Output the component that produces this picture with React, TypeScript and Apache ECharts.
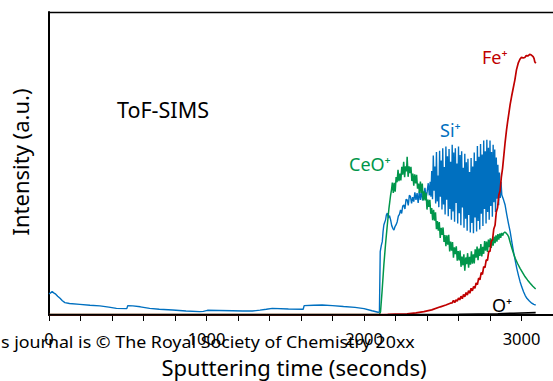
import { useEffect, useRef } from "react";
import * as echarts from "echarts";

// Sputtering time axis (seconds)
const timeMin = 0;
const timeMax = 3200;
const tickStep = 200;
const labelledTicks = [0, 1000, 2000, 3000];

// ToF-SIMS depth profiles: [time (s), intensity (a.u., 0-100)]
const siData: [number, number][] = [
  [0, 7.0], [10, 7.3], [20, 7.7], [30, 7.3], [40, 7.0], [55, 6.2], [70, 5.5], [85, 4.7],
  [101, 4.1], [130, 3.8], [196, 3.5], [260, 3.2], [323, 3.0], [380, 2.6], [428, 2.2],
  [494, 2.1], [500, 3.1], [532, 3.0], [580, 2.7], [639, 2.2], [700, 1.9], [785, 1.65],
  [870, 1.3], [956, 1.1], [980, 1.2], [1006, 1.55], [1080, 1.5], [1165, 1.4], [1230, 1.3],
  [1291, 1.3], [1340, 1.6], [1380, 1.9], [1418, 2.2], [1520, 2.0], [1614, 1.9], [1620, 3.1],
  [1680, 3.2], [1734, 3.3], [1800, 3.1], [1870, 2.8], [1943, 2.5], [2000, 2.1], [2051, 1.4],
  [2089, 0.9], [2098, 1.0],
  [2103, 20.9], [2110, 23.0], [2116, 24.2], [2121, 27.5], [2126, 29.7], [2131, 30.5],
  [2137, 31.4], [2142, 33.0], [2148, 33.6], [2155, 32.0], [2162, 32.8], [2169, 31.4],
  [2176, 29.5], [2183, 28.6], [2190, 28.0], [2197, 29.2], [2204, 29.8], [2211, 30.8],
  [2218, 32.6], [2225, 33.2], [2232, 34.7], [2239, 33.5], [2246, 36.0], [2253, 36.3],
  [2260, 35.0], [2267, 38.2], [2274, 38.0], [2281, 36.2], [2288, 39.5], [2295, 39.1],
  [2302, 36.8], [2309, 38.9], [2316, 37.4], [2323, 40.5], [2330, 38.0], [2337, 40.2],
  [2344, 37.0], [2351, 40.8], [2358, 38.0], [2365, 41.0], [2372, 37.8], [2380, 39.6],
  [2387, 42.0], [2394, 38.5], [2401, 40.7], [2408, 43.5], [2415, 39.5],
  [2420, 44.0], [2425, 39.0], [2430, 47.5], [2435, 38.2], [2440, 52.6], [2445, 41.0],
  [2450, 49.0], [2455, 36.8], [2460, 53.8], [2465, 37.5], [2470, 46.0], [2475, 35.6],
  [2480, 54.2], [2485, 39.0], [2490, 51.0], [2495, 34.8], [2500, 55.0], [2505, 36.5],
  [2510, 48.8], [2515, 33.2], [2520, 55.6], [2525, 38.0], [2530, 52.4], [2535, 32.6],
  [2540, 54.8], [2545, 35.0], [2550, 50.6], [2555, 31.4], [2560, 56.2], [2565, 34.2],
  [2570, 53.6], [2575, 30.8], [2580, 55.0], [2585, 37.0], [2590, 50.0], [2595, 30.2],
  [2600, 55.6], [2605, 33.6], [2610, 52.8], [2615, 29.6], [2620, 54.0], [2625, 35.5],
  [2630, 48.6], [2635, 28.8], [2640, 53.2], [2645, 31.8], [2650, 50.4], [2655, 27.8],
  [2660, 51.6], [2665, 33.0], [2670, 47.2], [2675, 27.2], [2680, 51.8], [2685, 30.4],
  [2690, 49.0], [2695, 27.0], [2700, 53.6], [2705, 32.2], [2710, 50.8], [2715, 27.6],
  [2720, 55.8], [2725, 31.0], [2730, 52.2], [2735, 28.2], [2740, 56.4], [2745, 33.4],
  [2750, 53.0], [2755, 29.4], [2760, 57.6], [2765, 35.0], [2770, 54.0], [2775, 30.2],
  [2780, 57.8], [2785, 34.0], [2790, 55.2], [2795, 31.4], [2800, 57.6], [2805, 36.0],
  [2810, 53.8], [2815, 32.4], [2820, 56.2], [2825, 37.2], [2830, 54.6], [2835, 34.0],
  [2840, 52.0], [2845, 38.4], [2850, 49.6], [2855, 36.2], [2860, 47.0], [2865, 38.6],
  [2870, 44.0], [2875, 39.6],
  [2886, 38.0], [2896, 36.3], [2907, 33.0], [2918, 30.0], [2928, 27.5], [2939, 24.0],
  [2949, 20.9], [2960, 18.0], [2970, 15.4], [2981, 13.0], [2991, 11.0], [3002, 9.2],
  [3013, 7.7], [3023, 6.5], [3034, 5.5], [3050, 4.6], [3065, 3.9], [3078, 3.5], [3090, 3.3],
];

const ceoData: [number, number][] = [
  [0, 0.2], [1000, 0.2], [2098, 0.2], [2100, 0.3], [2105, 1.1], [2115, 8.0], [2126, 16.5],
  [2137, 23.5], [2148, 29.7], [2158, 35.0], [2169, 39.6], [2175, 41.5],
  [2180, 43.7], [2186, 40.3], [2192, 43.6], [2198, 40.7], [2204, 45.5], [2210, 43.8],
  [2216, 47.9], [2222, 44.2], [2228, 46.7], [2234, 44.4], [2240, 48.9], [2246, 46.3],
  [2252, 50.6], [2258, 45.5], [2264, 49.1], [2270, 47.4], [2274, 52.2], [2280, 45.6],
  [2286, 49.1], [2292, 46.8], [2298, 48.9], [2304, 44.2], [2310, 46.7], [2316, 42.7],
  [2322, 46.4], [2328, 43.4], [2334, 46.3], [2340, 41.7], [2346, 43.4], [2352, 40.3],
  [2358, 44.0], [2364, 40.3], [2370, 43.4], [2376, 37.8], [2382, 40.8], [2388, 37.8],
  [2394, 40.3], [2400, 34.8], [2406, 38.1], [2412, 35.7], [2418, 38.0], [2424, 33.4],
  [2430, 35.3], [2436, 31.3], [2442, 34.7], [2448, 31.1], [2454, 33.9], [2460, 28.3],
  [2466, 31.0], [2472, 27.8], [2478, 30.7], [2484, 25.4], [2490, 28.8], [2496, 26.4],
  [2502, 28.9], [2508, 24.1], [2514, 26.4], [2520, 22.7], [2526, 26.3], [2532, 23.2],
  [2538, 26.5], [2544, 21.0], [2550, 24.2], [2556, 21.2], [2562, 24.1], [2568, 18.9],
  [2574, 22.3], [2580, 20.1], [2586, 22.7], [2592, 17.9], [2598, 21.1], [2604, 18.0],
  [2610, 21.3], [2616, 15.9], [2622, 19.3], [2628, 16.4], [2634, 20.0], [2640, 14.6],
  [2646, 19.0], [2652, 16.8], [2658, 20.4], [2664, 15.6], [2670, 19.2], [2676, 16.6],
  [2682, 21.0], [2688, 16.9], [2694, 20.0], [2700, 17.0], [2706, 21.7], [2712, 18.9],
  [2718, 22.6], [2724, 18.1], [2730, 21.9], [2736, 19.5], [2742, 23.4], [2748, 19.3],
  [2754, 22.5], [2760, 20.2], [2766, 24.4], [2772, 21.2], [2778, 24.2], [2784, 20.8],
  [2790, 24.9], [2796, 22.4], [2802, 25.3], [2808, 22.1], [2814, 25.1], [2820, 22.9],
  [2826, 25.9], [2832, 23.7], [2838, 26.3], [2844, 24.2], [2850, 26.7], [2856, 24.9],
  [2862, 26.9], [2868, 25.5], [2874, 27.1], [2880, 26.2], [2886, 27.0], [2894, 27.4],
  [2903, 27.0], [2910, 26.6], [2918, 25.9], [2928, 24.0], [2939, 22.0], [2950, 20.2],
  [2960, 18.7], [2975, 17.0], [2991, 15.4], [3007, 14.0], [3023, 12.6], [3039, 11.5],
  [3055, 10.5], [3072, 9.5], [3090, 8.6],
];

const feData: [number, number][] = [
  [0, 0.1], [1000, 0.1], [2095, 0.1], [2150, 0.2], [2200, 0.3], [2274, 0.4], [2330, 0.7],
  [2380, 1.1], [2430, 1.7], [2485, 2.7], [2520, 3.3], [2548, 3.9], [2560, 4.0], [2568, 4.8],
  [2576, 4.1], [2584, 5.0], [2592, 4.6], [2600, 5.6], [2608, 5.0], [2616, 6.2], [2624, 5.4],
  [2632, 6.8], [2640, 6.0], [2648, 7.4], [2656, 6.6], [2664, 8.0], [2672, 7.2], [2680, 8.8],
  [2688, 8.0], [2696, 9.4], [2704, 8.8], [2712, 10.6], [2720, 10.0], [2728, 12.2],
  [2736, 11.6], [2744, 14.0], [2752, 13.4], [2760, 16.0], [2768, 15.6], [2776, 18.2],
  [2784, 18.0], [2792, 21.0], [2800, 21.0], [2808, 24.4], [2816, 24.8], [2824, 28.4],
  [2832, 29.6], [2840, 34.0], [2848, 35.4], [2856, 39.6], [2864, 41.0], [2872, 45.5],
  [2880, 48.5], [2886, 51.7], [2896, 57.0], [2905, 61.1], [2912, 63.8], [2920, 66.6],
  [2928, 69.5], [2937, 72.1], [2948, 75.0], [2958, 77.6], [2968, 80.9], [2979, 83.1],
  [2990, 84.4], [3000, 85.1], [3010, 84.8], [3021, 85.0], [3030, 85.6], [3042, 85.5],
  [3052, 86.0], [3063, 85.8], [3074, 85.3], [3080, 84.6], [3084, 83.6], [3091, 83.1],
];

const oData: [number, number][] = [
  [0, 0.1], [2100, 0.1], [2600, 0.2], [2850, 0.4], [2950, 0.6], [3090, 0.8],
];

const FONT = "Noto Sans";

export default function App() {
  const ref = useRef<HTMLDivElement>(null);

  useEffect(() => {
    const chart = echarts.init(ref.current!, null, { renderer: "svg" });
    const line = (name: string, data: [number, number][], color: string, width = 1.5) => ({
      name,
      type: "line",
      data,
      showSymbol: false,
      symbol: "none",
      lineStyle: { color, width },
      itemStyle: { color },
    });
    chart.setOption({
      animation: false,
      backgroundColor: "#ffffff",
      grid: { left: 49, top: 12, width: 506, height: 303, containLabel: false },
      xAxis: [
        {
          type: "value",
          min: timeMin,
          max: timeMax,
          interval: tickStep,
          axisLine: { show: true, lineStyle: { color: "#000", width: 2 } },
          axisTick: { show: true, length: 6, lineStyle: { color: "#000", width: 1 } },
          splitLine: { show: false },
          axisLabel: {
            margin: 15,
            color: "#000",
            fontFamily: FONT,
            fontSize: 16.5,
            showMaxLabel: false,
            formatter: (v: number) => (labelledTicks.includes(v) ? String(v) : ""),
          },
        },
        {
          type: "value",
          position: "top",
          min: timeMin,
          max: timeMax,
          axisLine: { show: true, onZero: false, lineStyle: { color: "#000", width: 1.3 } },
          axisTick: { show: false },
          axisLabel: { show: false },
          splitLine: { show: false },
        },
      ],
      yAxis: {
        type: "value",
        min: 0,
        max: 100,
        axisLine: { show: true, lineStyle: { color: "#000", width: 2 } },
        axisTick: { show: false },
        axisLabel: { show: false },
        splitLine: { show: false },
      },
      series: [
        line("Si+", siData, "#0070C0", 1.4),
        line("CeO+", ceoData, "#00964B"),
        line("Fe+", feData, "#C00000", 1.7),
        line("O+", oData, "#000000", 1.6),
      ],
      graphic: [
        {
          type: "text",
          x: 1,
          y: 342,
          scaleX: 1.08,
          style: {
            text: "s journal is © The Royal Society of Chemistry 20xx",
            fill: "#000",
            font: `16.5px "${FONT}"`,
            textAlign: "left",
            textVerticalAlign: "middle",
          },
        },
        {
          type: "text",
          x: 294,
          y: 367,
          style: {
            text: "Sputtering time (seconds)",
            fill: "#000",
            font: `22px "${FONT}"`,
            textAlign: "center",
            textVerticalAlign: "middle",
          },
        },
        {
          type: "text",
          x: 20,
          y: 162,
          rotation: Math.PI / 2,
          style: {
            text: "Intensity (a.u.)",
            fill: "#000",
            font: `22px "${FONT}"`,
            textAlign: "center",
            textVerticalAlign: "middle",
          },
        },
        {
          type: "text",
          x: 117,
          y: 109,
          style: { text: "ToF-SIMS", fill: "#000", font: `21.5px "${FONT}"`, textVerticalAlign: "middle" },
        },
        {
          type: "text",
          x: 482,
          y: 57,
          style: { text: "Fe⁺", fill: "#C00000", font: `18px "${FONT}"`, textVerticalAlign: "middle" },
        },
        {
          type: "text",
          x: 440,
          y: 130,
          style: { text: "Si⁺", fill: "#0070C0", font: `18px "${FONT}"`, textVerticalAlign: "middle" },
        },
        {
          type: "text",
          x: 349,
          y: 164,
          style: { text: "CeO⁺", fill: "#00964B", font: `18px "${FONT}"`, textVerticalAlign: "middle" },
        },
        {
          type: "text",
          x: 492,
          y: 305,
          style: { text: "O⁺", fill: "#000", font: `18px "${FONT}"`, textVerticalAlign: "middle" },
        },
      ],
    });
    return () => chart.dispose();
  }, []);

  return (
    <div
      ref={ref}
      style={{ position: "absolute", left: 0, top: 0, width: 553, height: 381 }}
    />
  );
}
